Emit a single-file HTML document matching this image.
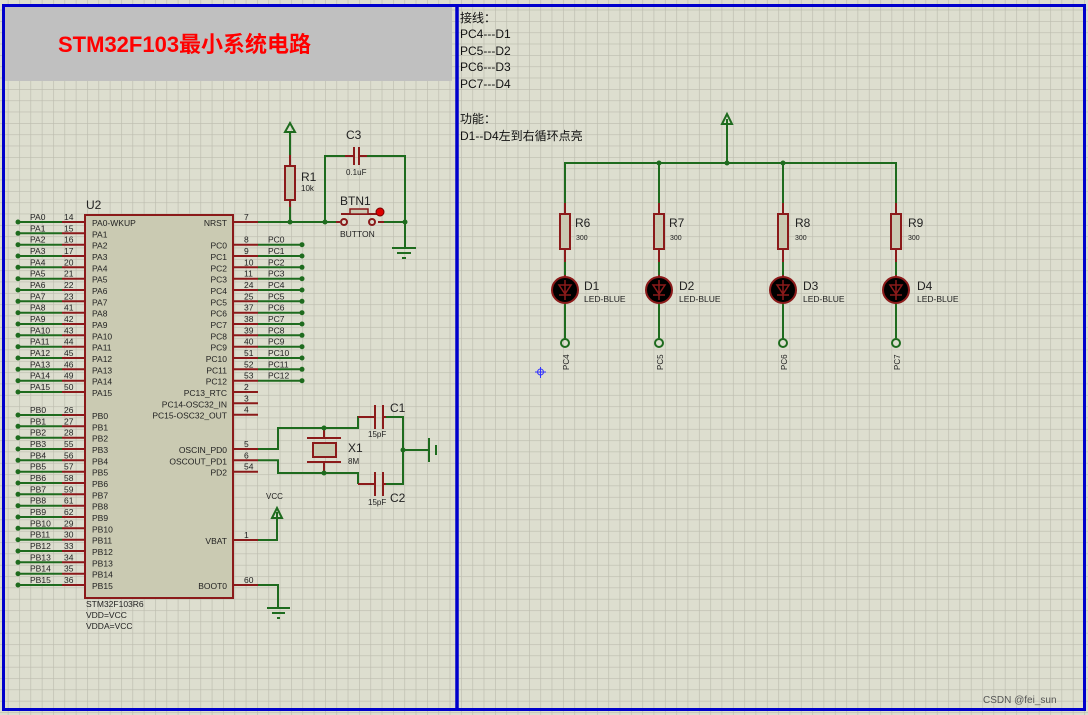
<!DOCTYPE html>
<html><head><meta charset="utf-8"><style>
html,body{margin:0;padding:0;background:#fff}
svg{display:block}
text{font-family:"Liberation Sans","Noto Sans CJK SC",sans-serif}
</style></head><body>
<svg width="1088" height="715" viewBox="0 0 1088 715" xmlns="http://www.w3.org/2000/svg">
<defs>
<pattern id="g" x="7.8" y="9.7" width="11.33" height="11.33" patternUnits="userSpaceOnUse">
<path d="M0 0H11.33M0 0V11.33" stroke="#bcbcae" stroke-width="1.3" fill="none"/>
</pattern>
</defs>
<rect width="1088" height="715" fill="#dddecf"/>
<rect width="1088" height="715" fill="url(#g)"/>
<rect x="5" y="7" width="447" height="74" fill="#c0c0c0"/>
<text x="58" y="52" font-size="22" font-weight="bold" fill="#ff0000">STM32F103最小系统电路</text>
<rect x="3.5" y="5.5" width="1081" height="704" fill="none" stroke="#0000cc" stroke-width="3"/>
<line x1="457" y1="5" x2="457" y2="710" stroke="#0000cc" stroke-width="3.5"/>

<rect x="85" y="215" width="148" height="383" fill="#cacab2" stroke="#8b1a1a" stroke-width="2"/>
<text x="86" y="209" font-size="12" fill="#222">U2</text>
<g font-size="8.5" fill="#222">
<text x="86" y="607">STM32F103R6</text>
<text x="86" y="618">VDD=VCC</text>
<text x="86" y="629">VDDA=VCC</text>
</g>

<g stroke-width="2">
<g stroke="#1e6b1e">
<path d="M18 222H62M18 233.3H62M18 244.7H62M18 256H62M18 267.3H62M18 278.7H62M18 290H62M18 301.3H62M18 312.7H62M18 324H62M18 335.3H62M18 346.7H62M18 358H62M18 369.3H62M18 380.7H62M18 392H62"/>
<path d="M18 415H62M18 426.3H62M18 437.7H62M18 449H62M18 460.3H62M18 471.7H62M18 483H62M18 494.3H62M18 505.7H62M18 517H62M18 528.3H62M18 539.7H62M18 551H62M18 562.3H62M18 573.7H62M18 585H62"/>
</g>
<g stroke="#8b1a1a">
<path d="M62 222H85M62 233.3H85M62 244.7H85M62 256H85M62 267.3H85M62 278.7H85M62 290H85M62 301.3H85M62 312.7H85M62 324H85M62 335.3H85M62 346.7H85M62 358H85M62 369.3H85M62 380.7H85M62 392H85"/>
<path d="M62 415H85M62 426.3H85M62 437.7H85M62 449H85M62 460.3H85M62 471.7H85M62 483H85M62 494.3H85M62 505.7H85M62 517H85M62 528.3H85M62 539.7H85M62 551H85M62 562.3H85M62 573.7H85M62 585H85"/>
</g>
</g>
<g fill="#1e6b1e">
<circle cx="18" cy="222" r="2.5"/><circle cx="18" cy="233.3" r="2.5"/><circle cx="18" cy="244.7" r="2.5"/><circle cx="18" cy="256" r="2.5"/><circle cx="18" cy="267.3" r="2.5"/><circle cx="18" cy="278.7" r="2.5"/><circle cx="18" cy="290" r="2.5"/><circle cx="18" cy="301.3" r="2.5"/><circle cx="18" cy="312.7" r="2.5"/><circle cx="18" cy="324" r="2.5"/><circle cx="18" cy="335.3" r="2.5"/><circle cx="18" cy="346.7" r="2.5"/><circle cx="18" cy="358" r="2.5"/><circle cx="18" cy="369.3" r="2.5"/><circle cx="18" cy="380.7" r="2.5"/><circle cx="18" cy="392" r="2.5"/>
<circle cx="18" cy="415" r="2.5"/><circle cx="18" cy="426.3" r="2.5"/><circle cx="18" cy="437.7" r="2.5"/><circle cx="18" cy="449" r="2.5"/><circle cx="18" cy="460.3" r="2.5"/><circle cx="18" cy="471.7" r="2.5"/><circle cx="18" cy="483" r="2.5"/><circle cx="18" cy="494.3" r="2.5"/><circle cx="18" cy="505.7" r="2.5"/><circle cx="18" cy="517" r="2.5"/><circle cx="18" cy="528.3" r="2.5"/><circle cx="18" cy="539.7" r="2.5"/><circle cx="18" cy="551" r="2.5"/><circle cx="18" cy="562.3" r="2.5"/><circle cx="18" cy="573.7" r="2.5"/><circle cx="18" cy="585" r="2.5"/>
</g>
<g font-size="8.5" fill="#222">
<text x="30" y="220">PA0</text><text x="64" y="220">14</text><text x="92" y="226">PA0-WKUP</text>
<text x="30" y="231.3">PA1</text><text x="64" y="231.3">15</text><text x="92" y="237.3">PA1</text>
<text x="30" y="242.7">PA2</text><text x="64" y="242.7">16</text><text x="92" y="248.7">PA2</text>
<text x="30" y="254">PA3</text><text x="64" y="254">17</text><text x="92" y="260">PA3</text>
<text x="30" y="265.3">PA4</text><text x="64" y="265.3">20</text><text x="92" y="271.3">PA4</text>
<text x="30" y="276.7">PA5</text><text x="64" y="276.7">21</text><text x="92" y="282.7">PA5</text>
<text x="30" y="288">PA6</text><text x="64" y="288">22</text><text x="92" y="294">PA6</text>
<text x="30" y="299.3">PA7</text><text x="64" y="299.3">23</text><text x="92" y="305.3">PA7</text>
<text x="30" y="310.7">PA8</text><text x="64" y="310.7">41</text><text x="92" y="316.7">PA8</text>
<text x="30" y="322">PA9</text><text x="64" y="322">42</text><text x="92" y="328">PA9</text>
<text x="30" y="333.3">PA10</text><text x="64" y="333.3">43</text><text x="92" y="339.3">PA10</text>
<text x="30" y="344.7">PA11</text><text x="64" y="344.7">44</text><text x="92" y="350.7">PA11</text>
<text x="30" y="356">PA12</text><text x="64" y="356">45</text><text x="92" y="362">PA12</text>
<text x="30" y="367.3">PA13</text><text x="64" y="367.3">46</text><text x="92" y="373.3">PA13</text>
<text x="30" y="378.7">PA14</text><text x="64" y="378.7">49</text><text x="92" y="384.7">PA14</text>
<text x="30" y="390">PA15</text><text x="64" y="390">50</text><text x="92" y="396">PA15</text>
<text x="30" y="413">PB0</text><text x="64" y="413">26</text><text x="92" y="419">PB0</text>
<text x="30" y="424.3">PB1</text><text x="64" y="424.3">27</text><text x="92" y="430.3">PB1</text>
<text x="30" y="435.7">PB2</text><text x="64" y="435.7">28</text><text x="92" y="441.7">PB2</text>
<text x="30" y="447">PB3</text><text x="64" y="447">55</text><text x="92" y="453">PB3</text>
<text x="30" y="458.3">PB4</text><text x="64" y="458.3">56</text><text x="92" y="464.3">PB4</text>
<text x="30" y="469.7">PB5</text><text x="64" y="469.7">57</text><text x="92" y="475.7">PB5</text>
<text x="30" y="481">PB6</text><text x="64" y="481">58</text><text x="92" y="487">PB6</text>
<text x="30" y="492.3">PB7</text><text x="64" y="492.3">59</text><text x="92" y="498.3">PB7</text>
<text x="30" y="503.7">PB8</text><text x="64" y="503.7">61</text><text x="92" y="509.7">PB8</text>
<text x="30" y="515">PB9</text><text x="64" y="515">62</text><text x="92" y="521">PB9</text>
<text x="30" y="526.3">PB10</text><text x="64" y="526.3">29</text><text x="92" y="532.3">PB10</text>
<text x="30" y="537.7">PB11</text><text x="64" y="537.7">30</text><text x="92" y="543.7">PB11</text>
<text x="30" y="549">PB12</text><text x="64" y="549">33</text><text x="92" y="555">PB12</text>
<text x="30" y="560.3">PB13</text><text x="64" y="560.3">34</text><text x="92" y="566.3">PB13</text>
<text x="30" y="571.7">PB14</text><text x="64" y="571.7">35</text><text x="92" y="577.7">PB14</text>
<text x="30" y="583">PB15</text><text x="64" y="583">36</text><text x="92" y="589">PB15</text>
</g>

<g stroke-width="2" fill="none">
<path stroke="#8b1a1a" d="M233 222H258M233 244.7H258M233 256H258M233 267.3H258M233 278.7H258M233 290H258M233 301.3H258M233 312.7H258M233 324H258M233 335.3H258M233 346.7H258M233 358H258M233 369.3H258M233 380.7H258M233 392H258M233 403.3H258M233 414.7H258M233 449H258M233 460.3H258M233 471.7H258M233 540H258M233 585H258"/>
<path stroke="#1e6b1e" d="M258 244.7H302M258 256H302M258 267.3H302M258 278.7H302M258 290H302M258 301.3H302M258 312.7H302M258 324H302M258 335.3H302M258 346.7H302M258 358H302M258 369.3H302M258 380.7H302"/>
</g>
<g fill="#1e6b1e">
<circle cx="302" cy="244.7" r="2.5"/><circle cx="302" cy="256" r="2.5"/><circle cx="302" cy="267.3" r="2.5"/><circle cx="302" cy="278.7" r="2.5"/><circle cx="302" cy="290" r="2.5"/><circle cx="302" cy="301.3" r="2.5"/><circle cx="302" cy="312.7" r="2.5"/><circle cx="302" cy="324" r="2.5"/><circle cx="302" cy="335.3" r="2.5"/><circle cx="302" cy="346.7" r="2.5"/><circle cx="302" cy="358" r="2.5"/><circle cx="302" cy="369.3" r="2.5"/><circle cx="302" cy="380.7" r="2.5"/>
</g>
<g font-size="8.5" fill="#222">
<text x="227" y="226" text-anchor="end">NRST</text><text x="244" y="220">7</text>
<text x="227" y="248.7" text-anchor="end">PC0</text><text x="244" y="242.7">8</text><text x="268" y="242.7">PC0</text>
<text x="227" y="260" text-anchor="end">PC1</text><text x="244" y="254">9</text><text x="268" y="254">PC1</text>
<text x="227" y="271.3" text-anchor="end">PC2</text><text x="244" y="265.3">10</text><text x="268" y="265.3">PC2</text>
<text x="227" y="282.7" text-anchor="end">PC3</text><text x="244" y="276.7">11</text><text x="268" y="276.7">PC3</text>
<text x="227" y="294" text-anchor="end">PC4</text><text x="244" y="288">24</text><text x="268" y="288">PC4</text>
<text x="227" y="305.3" text-anchor="end">PC5</text><text x="244" y="299.3">25</text><text x="268" y="299.3">PC5</text>
<text x="227" y="316.7" text-anchor="end">PC6</text><text x="244" y="310.7">37</text><text x="268" y="310.7">PC6</text>
<text x="227" y="328" text-anchor="end">PC7</text><text x="244" y="322">38</text><text x="268" y="322">PC7</text>
<text x="227" y="339.3" text-anchor="end">PC8</text><text x="244" y="333.3">39</text><text x="268" y="333.3">PC8</text>
<text x="227" y="350.7" text-anchor="end">PC9</text><text x="244" y="344.7">40</text><text x="268" y="344.7">PC9</text>
<text x="227" y="362" text-anchor="end">PC10</text><text x="244" y="356">51</text><text x="268" y="356">PC10</text>
<text x="227" y="373.3" text-anchor="end">PC11</text><text x="244" y="367.3">52</text><text x="268" y="367.3">PC11</text>
<text x="227" y="384.7" text-anchor="end">PC12</text><text x="244" y="378.7">53</text><text x="268" y="378.7">PC12</text>
<text x="227" y="396" text-anchor="end">PC13_RTC</text><text x="244" y="390">2</text>
<text x="227" y="407.3" text-anchor="end">PC14-OSC32_IN</text><text x="244" y="401.3">3</text>
<text x="227" y="418.7" text-anchor="end">PC15-OSC32_OUT</text><text x="244" y="412.7">4</text>
<text x="227" y="453" text-anchor="end">OSCIN_PD0</text><text x="244" y="447">5</text>
<text x="227" y="464.3" text-anchor="end">OSCOUT_PD1</text><text x="244" y="458.3">6</text>
<text x="227" y="475.7" text-anchor="end">PD2</text><text x="244" y="469.7">54</text>
<text x="227" y="544" text-anchor="end">VBAT</text><text x="244" y="538">1</text>
<text x="227" y="589" text-anchor="end">BOOT0</text><text x="244" y="583">60</text>
</g>

<g fill="none" stroke-width="2">
<path stroke="#1e6b1e" d="M258 222H336M290 132V155M290 207V222M325 222V156H345M367 156H405V222H384M405 222V248"/>
<path stroke="#8b1a1a" d="M290 155V166M290 200V207M345 156H354M359 156H367M354 147V165M359 147V165M336 222H340M378 222H384"/>
<rect x="285" y="166" width="10" height="34" fill="#cacab2" stroke="#8b1a1a"/>
<circle cx="344" cy="222" r="3" stroke="#8b1a1a"/>
<circle cx="372" cy="222" r="3" stroke="#8b1a1a"/>
<path stroke="#8b1a1a" d="M341 214H381"/>
<rect x="350" y="209" width="18" height="5" stroke="#8b1a1a" fill="#cacab2" stroke-width="1.5"/>
<path stroke="#1e6b1e" d="M392 248H416M397 253H411M402 258H406"/>
<path stroke="#1e6b1e" d="M285 132L290 123L295 132Z"/>
</g>
<circle cx="380" cy="212" r="4" fill="#d00" stroke="#700"/>
<g fill="#1e6b1e"><circle cx="290" cy="222" r="2.5"/><circle cx="325" cy="222" r="2.5"/><circle cx="405" cy="222" r="2.5"/></g>
<g fill="#222">
<text x="301" y="181" font-size="12">R1</text><text x="301" y="191" font-size="8">10k</text>
<text x="346" y="139" font-size="12">C3</text><text x="346" y="175" font-size="8">0.1uF</text>
<text x="340" y="205" font-size="12">BTN1</text><text x="340" y="237" font-size="8.5">BUTTON</text>
</g>

<g fill="none" stroke-width="2">
<path stroke="#1e6b1e" d="M258 449H278V428H358V417H359M258 460.3H278V473H358V484M383 417H403V484H383M403 450H428"/>
<path stroke="#8b1a1a" d="M358 417H375M383 417H386M358 484H375M383 484H386M375 405V429M383 405V429M375 472V496M383 472V496M324 428V438M324 462V473M307 438H341M307 462H341"/>
<rect x="313" y="443" width="23" height="14" fill="#cacab2" stroke="#8b1a1a"/>
<path stroke="#1e6b1e" d="M429 438V462M436 445V455"/>
</g>
<g fill="#1e6b1e"><circle cx="324" cy="428" r="2.5"/><circle cx="324" cy="473" r="2.5"/><circle cx="403" cy="450" r="2.5"/></g>
<g fill="#222">
<text x="390" y="412" font-size="12">C1</text><text x="368" y="437" font-size="8">15pF</text>
<text x="390" y="502" font-size="12">C2</text><text x="368" y="505" font-size="8">15pF</text>
<text x="348" y="452" font-size="12">X1</text><text x="348" y="464" font-size="8">8M</text>
<text x="266" y="499" font-size="8">VCC</text>
</g>
<g fill="none" stroke-width="2" stroke="#1e6b1e">
<path d="M258 540H277V512M272 518L277 508L282 518Z"/>
<path d="M258 585H278V608M267 608H290M272 613H285M277 618H280"/>
</g>

<g font-size="12" fill="#111">
<text x="460" y="22">接线：</text>
<text x="460" y="38">PC4---D1</text>
<text x="460" y="55">PC5---D2</text>
<text x="460" y="71">PC6---D3</text>
<text x="460" y="88">PC7---D4</text>
<text x="460" y="123">功能：</text>
<text x="460" y="140">D1--D4左到右循环点亮</text>
</g>

<g fill="none" stroke-width="2">
<path stroke="#1e6b1e" d="M565 203V163H896V203M659 163V203M783 163V203M727 163V119M722 124L727 114L732 124Z"/>
</g>
<g fill="#1e6b1e"><circle cx="659" cy="163" r="2.5"/><circle cx="727" cy="163" r="2.5"/><circle cx="783" cy="163" r="2.5"/></g>

<g>
<path d="M565 203V214M565 249V262M565 275V303" stroke="#8b1a1a" stroke-width="2" fill="none"/>
<path d="M565 262V275M565 303V339" stroke="#1e6b1e" stroke-width="2" fill="none"/>
<rect x="560" y="214" width="10" height="35" fill="#cacab2" stroke="#8b1a1a" stroke-width="2"/>
<circle cx="565" cy="290" r="13" fill="#000" stroke="#8b1a1a" stroke-width="2"/>
<path d="M559 285H571L565 294ZM559 295H571M565 280V300" stroke="#8b1a1a" stroke-width="1.5" fill="none"/>
<circle cx="565" cy="343" r="4" fill="none" stroke="#1e6b1e" stroke-width="2"/>
</g>
<g>
<path d="M659 203V214M659 249V262M659 275V303" stroke="#8b1a1a" stroke-width="2" fill="none"/>
<path d="M659 262V275M659 303V339" stroke="#1e6b1e" stroke-width="2" fill="none"/>
<rect x="654" y="214" width="10" height="35" fill="#cacab2" stroke="#8b1a1a" stroke-width="2"/>
<circle cx="659" cy="290" r="13" fill="#000" stroke="#8b1a1a" stroke-width="2"/>
<path d="M653 285H665L659 294ZM653 295H665M659 280V300" stroke="#8b1a1a" stroke-width="1.5" fill="none"/>
<circle cx="659" cy="343" r="4" fill="none" stroke="#1e6b1e" stroke-width="2"/>
</g>
<g>
<path d="M783 203V214M783 249V262M783 275V303" stroke="#8b1a1a" stroke-width="2" fill="none"/>
<path d="M783 262V275M783 303V339" stroke="#1e6b1e" stroke-width="2" fill="none"/>
<rect x="778" y="214" width="10" height="35" fill="#cacab2" stroke="#8b1a1a" stroke-width="2"/>
<circle cx="783" cy="290" r="13" fill="#000" stroke="#8b1a1a" stroke-width="2"/>
<path d="M777 285H789L783 294ZM777 295H789M783 280V300" stroke="#8b1a1a" stroke-width="1.5" fill="none"/>
<circle cx="783" cy="343" r="4" fill="none" stroke="#1e6b1e" stroke-width="2"/>
</g>
<g>
<path d="M896 203V214M896 249V262M896 275V303" stroke="#8b1a1a" stroke-width="2" fill="none"/>
<path d="M896 262V275M896 303V339" stroke="#1e6b1e" stroke-width="2" fill="none"/>
<rect x="891" y="214" width="10" height="35" fill="#cacab2" stroke="#8b1a1a" stroke-width="2"/>
<circle cx="896" cy="290" r="13" fill="#000" stroke="#8b1a1a" stroke-width="2"/>
<path d="M890 285H902L896 294ZM890 295H902M896 280V300" stroke="#8b1a1a" stroke-width="1.5" fill="none"/>
<circle cx="896" cy="343" r="4" fill="none" stroke="#1e6b1e" stroke-width="2"/>
</g>
<g fill="#222">
<text x="575" y="227" font-size="12">R6</text><text x="576" y="240" font-size="7">300</text>
<text x="669" y="227" font-size="12">R7</text><text x="670" y="240" font-size="7">300</text>
<text x="795" y="227" font-size="12">R8</text><text x="795" y="240" font-size="7">300</text>
<text x="908" y="227" font-size="12">R9</text><text x="908" y="240" font-size="7">300</text>
<text x="584" y="290" font-size="12">D1</text><text x="584" y="302" font-size="8.5">LED-BLUE</text>
<text x="679" y="290" font-size="12">D2</text><text x="679" y="302" font-size="8.5">LED-BLUE</text>
<text x="803" y="290" font-size="12">D3</text><text x="803" y="302" font-size="8.5">LED-BLUE</text>
<text x="917" y="290" font-size="12">D4</text><text x="917" y="302" font-size="8.5">LED-BLUE</text>
<g font-size="8">
<text transform="translate(569,370) rotate(-90)">PC4</text>
<text transform="translate(663,370) rotate(-90)">PC5</text>
<text transform="translate(787,370) rotate(-90)">PC6</text>
<text transform="translate(900,370) rotate(-90)">PC7</text>
</g>
</g>
<path d="M535 372H546M540.5 367V378" stroke="#33f" stroke-width="1"/>
<circle cx="540.5" cy="372" r="3" fill="none" stroke="#33f"/>
<text x="983" y="703" font-size="10" fill="#555">CSDN @fei_sun</text>
</svg>
</body></html>
